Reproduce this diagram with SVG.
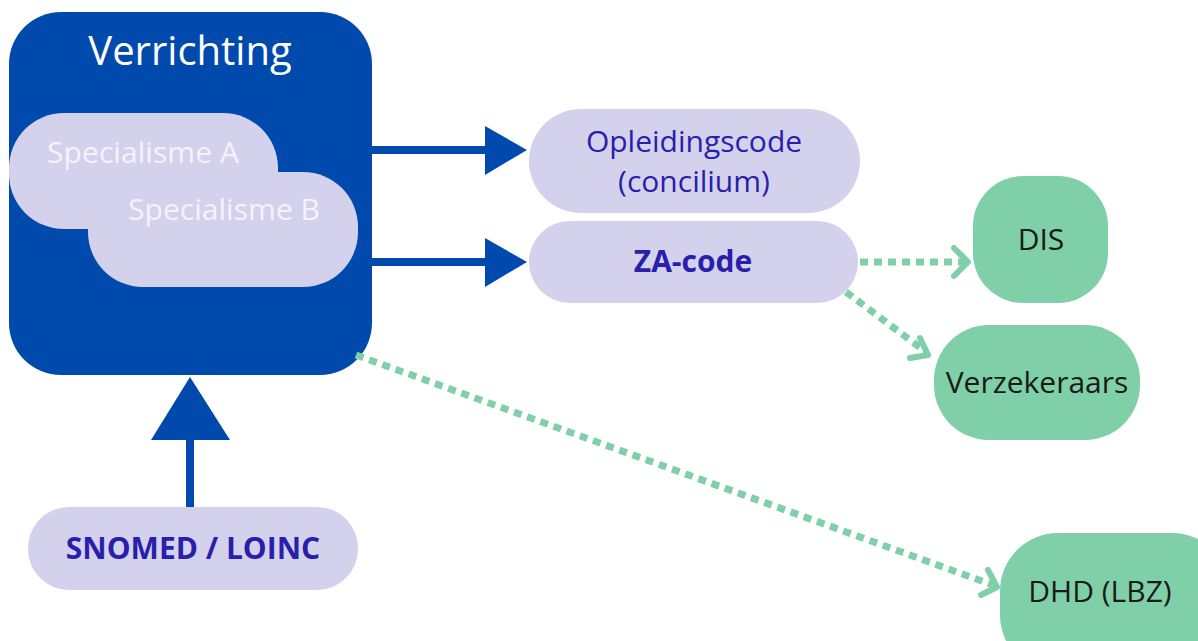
<svg xmlns="http://www.w3.org/2000/svg" width="1198" height="641" viewBox="0 0 1198 641">
<defs>
<style>
.t{font-family:"Open Sans","Liberation Sans",sans-serif;text-anchor:middle}
.lav{fill:#d3d1ec}
.grn{fill:#7fd0a8}
.blue{fill:#004aad}
.dot{stroke:#7fd0a8;stroke-width:7;stroke-dasharray:8 6;fill:none}
.chev{stroke:#7fd0a8;stroke-width:6;fill:none;stroke-linecap:round;stroke-linejoin:round}
.solid{stroke:#004aad;stroke-width:8;fill:none}
</style>
</defs>
<rect width="1198" height="641" fill="#ffffff"/>
<g id="verrichting">
<rect class="blue" x="9" y="12" width="363" height="363" rx="52"/>
<text class="t" x="190" y="65" font-size="40" fill="#ffffff">Verrichting</text>
</g>
<g id="specialisme-a">
<rect class="lav" x="9" y="113" width="269" height="116" rx="55"/>
<text x="47" y="163" font-family="Open Sans, Liberation Sans, sans-serif" font-size="30" fill="#f4f3fb" textLength="192">Specialisme A</text>
</g>
<g id="specialisme-b">
<rect class="lav" x="88" y="172" width="270" height="115" rx="55"/>
<text x="128" y="220" font-family="Open Sans, Liberation Sans, sans-serif" font-size="30" fill="#f4f3fb" textLength="192">Specialisme B</text>
</g>
<g id="opleidingscode">
<rect class="lav" x="529" y="109" width="331" height="104" rx="52"/>
<text class="t" x="694" y="152" font-size="30" fill="#2a1eac">Opleidingscode</text>
<text class="t" x="694" y="192" font-size="30" fill="#2a1eac">(concilium)</text>
</g>
<g id="za-code">
<rect class="lav" x="529" y="221" width="329" height="82" rx="41"/>
<text class="t" x="693" y="272" font-size="30" font-weight="bold" fill="#2a1eac">ZA-code</text>
</g>
<g id="dis">
<rect class="grn" x="973" y="176" width="135" height="127" rx="50"/>
<text class="t" x="1041" y="250" font-size="30" fill="#1a1a1a">DIS</text>
</g>
<g id="verzekeraars">
<rect class="grn" x="934" y="325" width="206" height="115" rx="55"/>
<text class="t" x="1037" y="393" font-size="30" fill="#1a1a1a">Verzekeraars</text>
</g>
<g id="dhd">
<rect class="grn" x="1000" y="533" width="230" height="140" rx="58"/>
<text class="t" x="1100" y="602" font-size="30" fill="#1a1a1a">DHD (LBZ)</text>
</g>
<g id="snomed">
<rect class="lav" x="28" y="507" width="330" height="83" rx="41"/>
<text class="t" x="193" y="559" font-size="30" font-weight="bold" fill="#2a1eac">SNOMED / LOINC</text>
</g>
<g id="connectors">
<line class="solid" x1="372" y1="150" x2="488" y2="150"/>
<polygon class="blue" points="485,126 527,150 485,175"/>
<line class="solid" x1="372" y1="262" x2="488" y2="262"/>
<polygon class="blue" points="485,238 527,262 485,287"/>
<line class="solid" x1="190" y1="507" x2="190" y2="436"/>
<polygon class="blue" points="190,377 230,440 151,440"/>
<line class="dot" x1="860" y1="262" x2="966" y2="262"/>
<polyline class="chev" points="954,248 968,262 954,276"/>
<line class="dot" x1="846" y1="292" x2="926" y2="352"/>
<polyline class="chev" points="920,338 928,355 910,358"/>
<line class="dot" x1="356" y1="355" x2="993" y2="585"/>
<polyline class="chev" points="988,570 997,587 981,595"/>
</g>
</svg>
